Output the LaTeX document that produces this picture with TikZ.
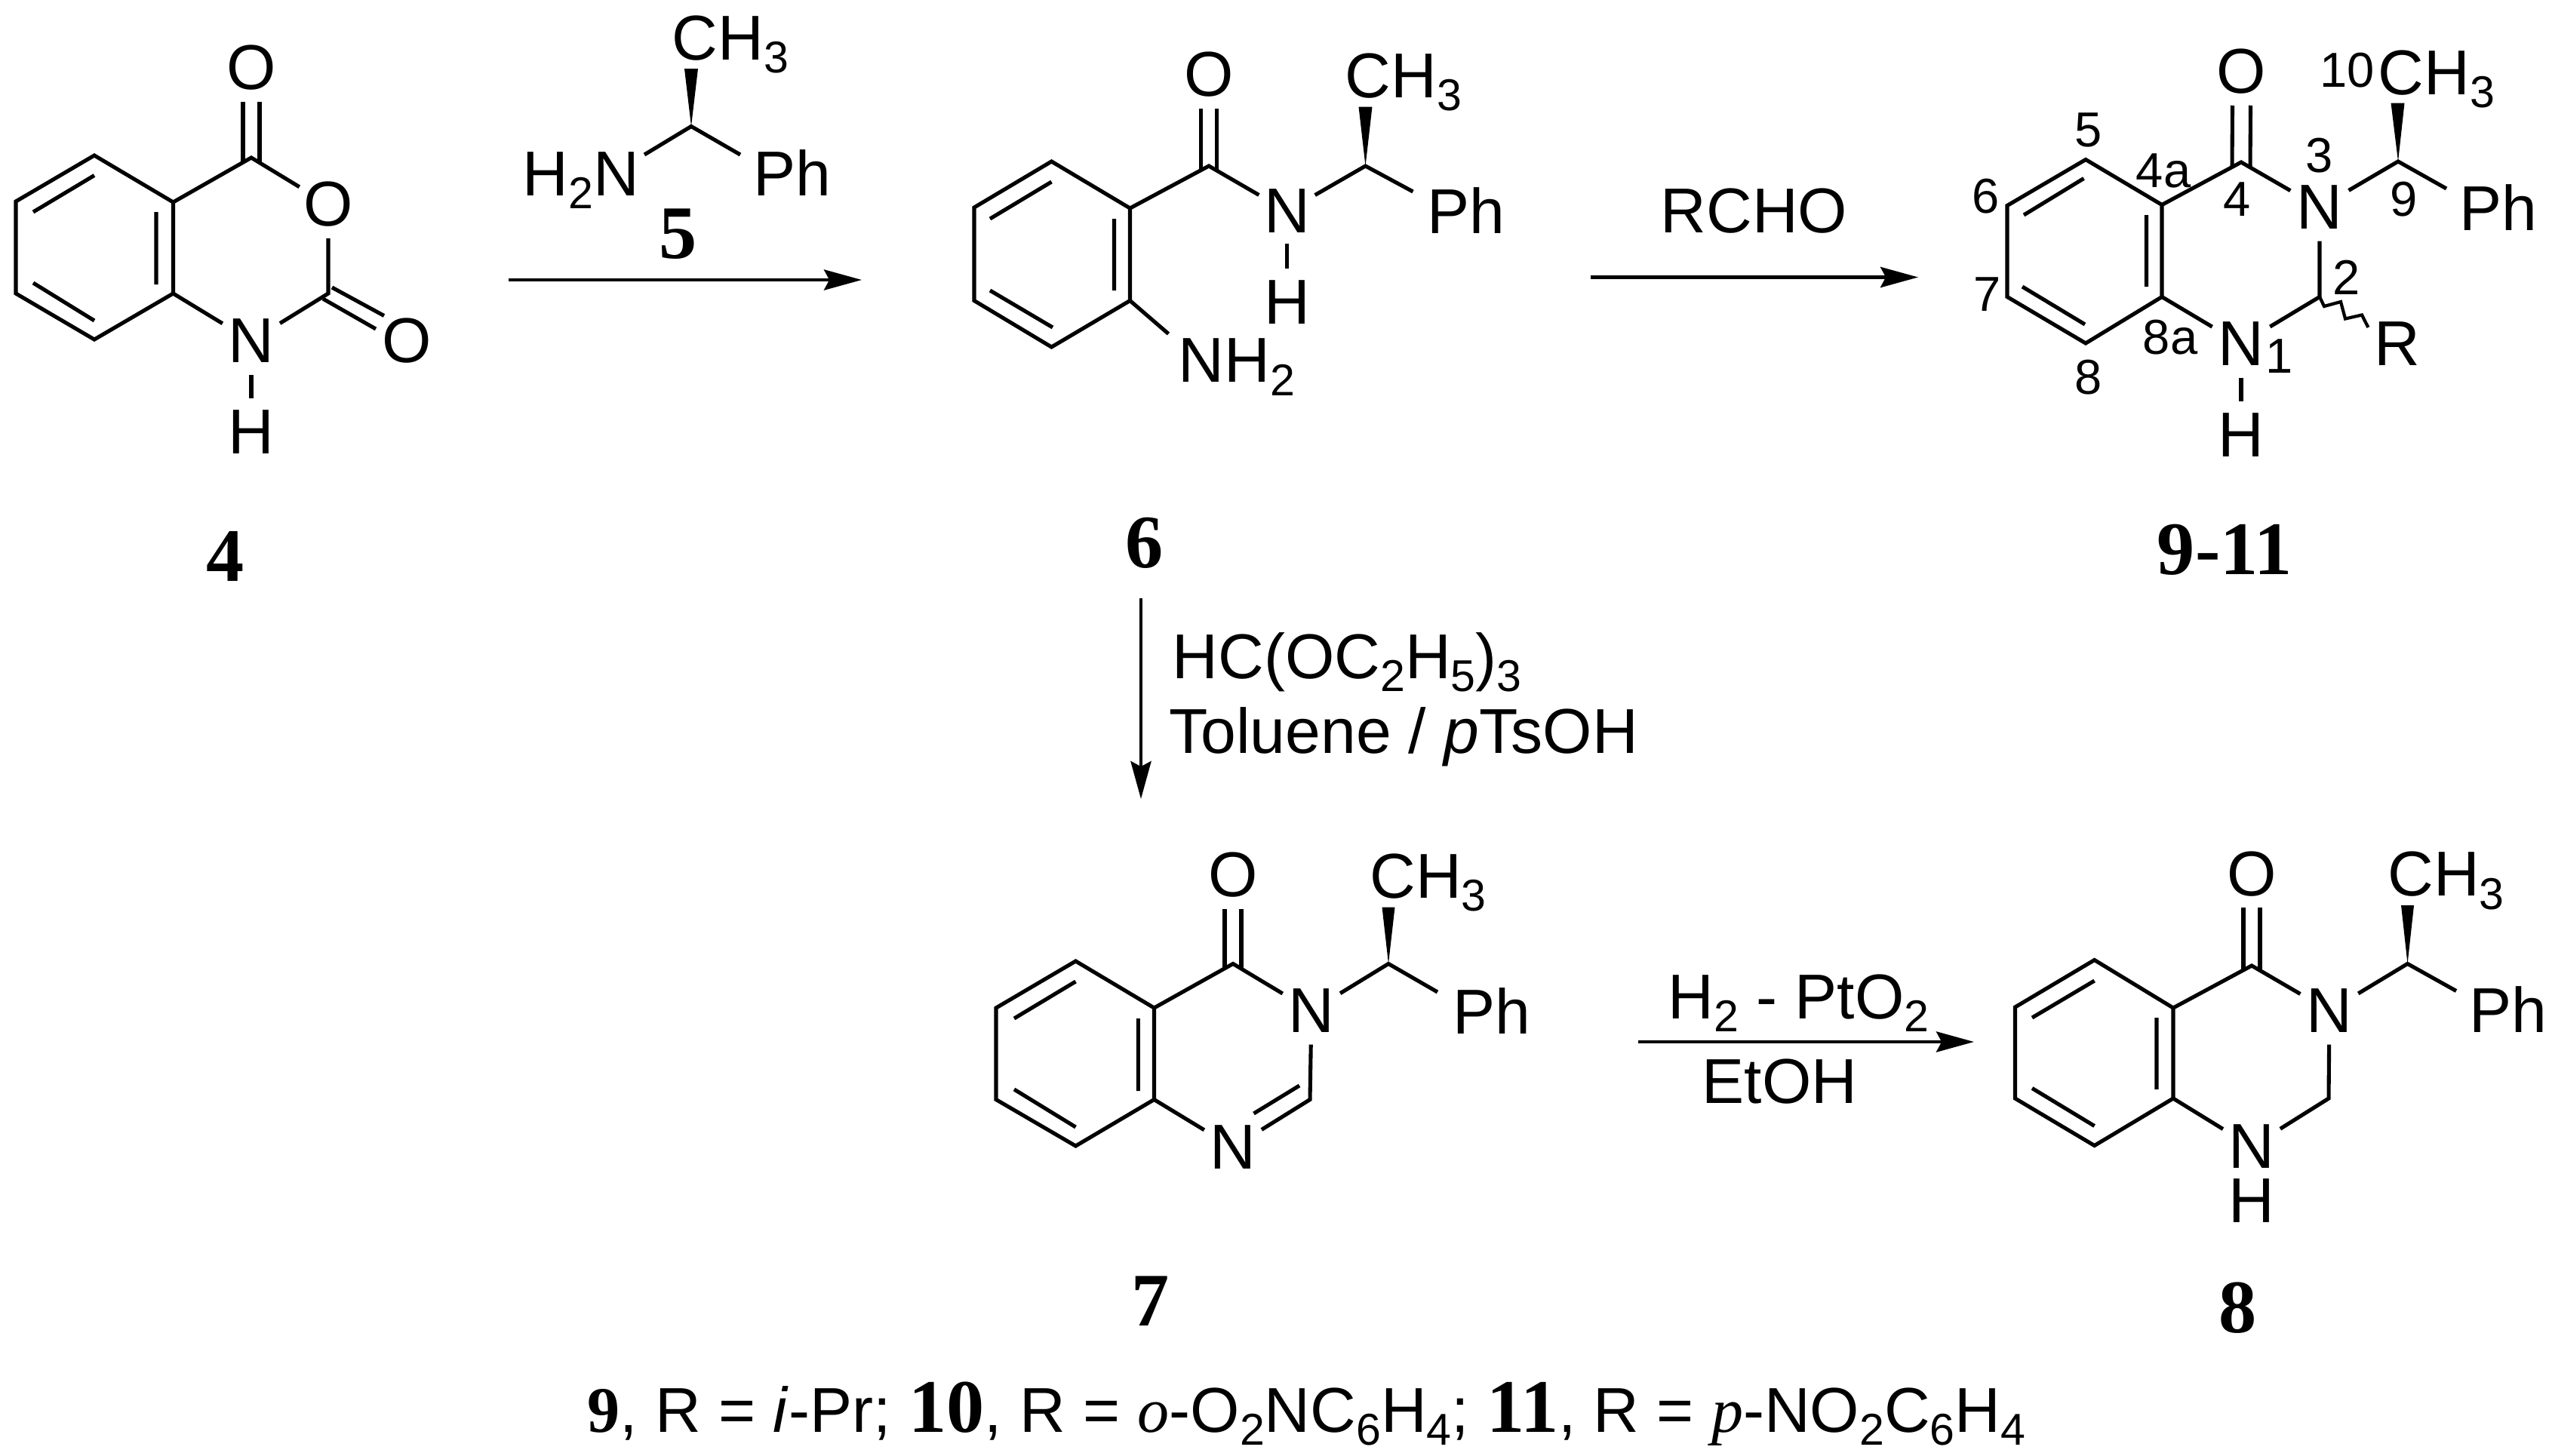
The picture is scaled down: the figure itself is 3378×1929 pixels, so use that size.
\documentclass[tikz,border=0pt]{standalone}
\usepackage{fontspec}
\setmainfont{Liberation Sans}
\newfontfamily\tnr{Liberation Serif}
\usetikzlibrary{calc,arrows.meta}
\newcommand{\atomfont}{\fontsize{23.9}{26}\selectfont}
\newcommand{\smallnum}{\fontsize{18.5}{20}\selectfont}
\newcommand{\cmpdfont}{\tnr\bfseries\fontsize{28.5}{30}\selectfont}
\newcommand{\dn}[1]{\raisebox{-5.1pt}{\fontsize{16.8}{18}\selectfont #1}}
\tikzset{
  bond/.style={line width=1.45pt,line cap=butt,line join=miter},
  atom/.style={circle,inner sep=0pt,minimum size=25pt,font=\atomfont},
  txt/.style={anchor=base west,inner sep=0pt,font=\atomfont},
  num/.style={inner sep=0pt,font=\smallnum},
  cmpd/.style={anchor=base,inner sep=0pt,font=\cmpdfont},
  rxn/.style={line width=1.3pt,-{Stealth[length=14.2pt,width=7.7pt,inset=2pt]}},
}
\begin{document}
\begin{tikzpicture}[x=0.01cm,y=-0.01cm]
\fill[white] (0,0) rectangle (3378,1929);
\useasboundingbox (0,0) rectangle (3378,1929);

% ---------- compound 4
\coordinate (a1) at (125,206); \coordinate (a2) at (21,267); \coordinate (a3) at (21,389);
\coordinate (a4) at (125,450); \coordinate (a5) at (229.5,389); \coordinate (a6) at (229.5,268);
\coordinate (aC4) at (333,209); \coordinate (aC2) at (435,389);
\node[atom] (aO) at (333,90) {O};
\node[atom] (aOr) at (435,271) {O};
\node[atom] (aN) at (333,452) {N};
\node[atom] (aOb) at (539,452) {O};
\node[atom] (aH) at (333,573) {H};
\draw[bond] (a1)--(a2)--(a3)--(a4)--(a5)--(a6)--cycle;
\draw[bond] (125,232.5)--(44,281) (207,281)--(207,377) (44,375)--(125,425);
\draw[bond] (a6)--(aC4)--(aOr);
\draw[bond] (aOr)--(aC2)--(aN)--(a5);
\draw[bond] (aN)--(aH);
\draw[bond] ($(aC4)+(-11,6)$)--($(aO.south)+(-11,0)$);
\draw[bond] ($(aC4)+(11,6)$)--($(aO.south)+(11,0)$);
\draw[bond] (440,381)--(509,418.5) (428,396)--(498,436);
\node[cmpd] (l4) at (299,770) {4};

% ---------- reagent 5
\coordinate (bC) at (916,167.5); \coordinate (bM) at (916,91);
\coordinate (bNe) at (854,205); \coordinate (bPe) at (981,205);
\node[txt] (bMe) at (890,79) {CH\dn{3}};
\node[txt] (bN) at (692,259) {H\dn{2}N};
\node[txt] (bPh) at (998,259) {Ph};
\fill ($(bM)+(-9,0)$)--($(bM)+(9,0)$)--(bC)--cycle;
\draw[bond] (bNe)--(bC)--(bPe);
\node[cmpd] (l5) at (899,342) {5};
\coordinate (ar1s) at (674,371); \coordinate (ar1e) at (1142,371);
\draw[rxn] (ar1s)--(ar1e);

% ---------- compound 6
\coordinate (c1) at (1393.5,214); \coordinate (c2) at (1291,275); \coordinate (c3) at (1291,398.5);
\coordinate (c4) at (1393.5,460); \coordinate (c5) at (1497.5,398.5); \coordinate (c6) at (1497.5,276);
\coordinate (cCO) at (1602,220); \coordinate (cC) at (1809.5,220); \coordinate (cM) at (1809.5,141.5);
\coordinate (cPe) at (1872.5,254); \coordinate (cNe) at (1548.5,442.5);
\node[atom] (cO) at (1602,99) {O};
\node[atom,minimum size=24pt] (cN) at (1705.5,280) {N};
\node[atom] (cH) at (1705.5,401) {H};
\node[txt] (cMe) at (1782,129) {CH\dn{3}};
\node[txt] (cPh) at (1891,309) {Ph};
\node[txt] (cNH) at (1561,506.5) {NH\dn{2}};
\draw[bond] (c1)--(c2)--(c3)--(c4)--(c5)--(c6)--cycle;
\draw[bond] (1393.5,241)--(1312,290) (1476.5,290)--(1476.5,385) (1312,385)--(1395,434);
\draw[bond] (c6)--(cCO)--(cN);
\draw[bond] (cN)--(cH);
\draw[bond] (cN)--(cC)--(cPe);
\draw[bond] (c5)--(cNe);
\fill ($(cM)+(-9,0)$)--($(cM)+(9,0)$)--(cC)--cycle;
\draw[bond] ($(cCO)+(-10.5,6)$)--($(cO.south)+(-10.5,0)$);
\draw[bond] ($(cCO)+(10.5,6)$)--($(cO.south)+(10.5,0)$);
\node[cmpd] (l6) at (1517,752) {6};

% ---------- arrow 6 to 9-11
\node[txt] (rcho) at (2200,308) {RCHO};
\coordinate (ar2s) at (2108,367.5); \coordinate (ar2e) at (2542,367.5);
\draw[rxn] (ar2s)--(ar2e);

% ---------- compounds 9-11
\coordinate (d5) at (2764,211.5); \coordinate (d6) at (2660,272.5); \coordinate (d7) at (2660,393.5);
\coordinate (d8) at (2764,455); \coordinate (d8a) at (2865,393.5); \coordinate (d4a) at (2865,271.5);
\coordinate (dC4) at (2970,215); \coordinate (dC9) at (3178,214); \coordinate (dC2) at (3074,393.5);
\coordinate (dM) at (3177.5,136.5); \coordinate (dPe) at (3242,250);
\node[atom] (dO) at (2970.5,95) {O};
\node[atom] (dN3) at (3074,275) {N};
\node[atom] (dN1) at (2970,456) {N};
\node[atom] (dH) at (2970,576.5) {H};
\node[atom] (dR) at (3176.5,456) {R};
\node[txt] (dMe) at (3151,125) {CH\dn{3}};
\node[txt] (dPh) at (3259,305) {Ph};
\draw[bond] (d5)--(d6)--(d7)--(d8)--(d8a)--(d4a)--cycle;
\draw[bond] (2761.5,236.5)--(2682,285) (2844.5,285)--(2844.5,380) (2680,380)--(2763,430);
\draw[bond] (d4a)--(dC4)--(dN3);
\draw[bond] (dN3)--(dC2)--(dN1)--(d8a);
\draw[bond] (dN1)--(dH);
\draw[bond] (dN3)--(dC9)--(dPe);
\fill ($(dM)+(-9,0)$)--($(dM)+(9,0)$)--(dC9)--cycle;
\draw[bond] ($(dC4)+(-12,6)$)--($(dO.south)+(-12,0)$);
\draw[bond] ($(dC4)+(12,6)$)--($(dO.south)+(12,0)$);
\draw[line width=1.2pt] (dC2)--(3080,406)--(3102,400)--(3108,422.5)--(3130,417.5)--(3138.4,434);
\node[num] (n5) at (2768,172.5) {5};
\node[num] (n6) at (2631.6,260) {6};
\node[num] (n7) at (2634,390) {7};
\node[num] (n8) at (2768,500) {8};
\node[num] (n4a) at (2867,226) {4a};
\node[num] (n8a) at (2876,447.5) {8a};
\node[num] (n4) at (2965,264) {4};
\node[num] (n3) at (3074,206) {3};
\node[num] (n2) at (3110,367.5) {2};
\node[num] (n9) at (3186,264) {9};
\node[num] (n1) at (3021,472.5) {1};
\node[num,anchor=base west] (n10) at (3074,115) {10};
\node[cmpd] (l9) at (2948,761.5) {9-11};

% ---------- arrow 6 to 7
\node[txt] (r1) at (1553,899) {HC(OC\dn{2}H\dn{5})\dn{3}};
\node[txt] (r2) at (1548.6,998.5) {Toluene / \textit{p}TsOH};
\coordinate (ar3s) at (1512,792.5); \coordinate (ar3e) at (1512,1059);
\draw[rxn] (ar3s)--(ar3e);

% ---------- compound 7
\coordinate (e1) at (1425.5,1274); \coordinate (e2) at (1320,1336); \coordinate (e3) at (1320,1457.5);
\coordinate (e4) at (1425.5,1519); \coordinate (e5) at (1529.5,1457.5); \coordinate (e6) at (1529.5,1336);
\coordinate (eCO) at (1634,1277.5); \coordinate (eC) at (1840,1277.5); \coordinate (eM) at (1840,1202.5);
\coordinate (eC2) at (1736,1457.5); \coordinate (ePe) at (1905,1315);
\node[atom] (eO) at (1634,1160) {O};
\node[atom] (eN) at (1738,1340) {N};
\node[atom] (eN1) at (1634,1521) {N};
\node[txt] (eMe) at (1814.6,1190) {CH\dn{3}};
\node[txt] (ePh) at (1924.4,1370) {Ph};
\draw[bond] (e1)--(e2)--(e3)--(e4)--(e5)--(e6)--cycle;
\draw[bond] (1425.5,1301)--(1344,1350) (1508.4,1350)--(1508.4,1446) (1344,1444)--(1425.5,1494);
\draw[bond] (e6)--(eCO)--(eN);
\draw[bond] (eN)--(eC2)--(eN1)--(e5);
\draw[bond] (1722,1439)--(1661.5,1476);
\draw[bond] (eN)--(eC)--(ePe);
\fill ($(eM)+(-8.5,0)$)--($(eM)+(8.5,0)$)--(eC)--cycle;
\draw[bond] ($(eCO)+(-11,6)$)--($(eO.south)+(-11,0)$);
\draw[bond] ($(eCO)+(11,6)$)--($(eO.south)+(11,0)$);
\node[cmpd] (l7) at (1525,1757) {7};

% ---------- arrow 7 to 8
\node[txt] (r3) at (2210,1350) {H\dn{2} - PtO\dn{2}};
\node[txt] (r4) at (2255,1462.5) {EtOH};
\coordinate (ar4s) at (2171,1381); \coordinate (ar4e) at (2616,1381);
\draw[rxn] (ar4s)--(ar4e);

% ---------- compound 8
\coordinate (f1) at (2775.6,1272.5); \coordinate (f2) at (2670.5,1335); \coordinate (f3) at (2670.5,1456);
\coordinate (f4) at (2775.6,1518.5); \coordinate (f5) at (2880,1456); \coordinate (f6) at (2880,1336);
\coordinate (fCO) at (2984,1280); \coordinate (fC) at (3190.5,1277.5); \coordinate (fM) at (3190.5,1200);
\coordinate (fC2) at (3086,1456); \coordinate (fPe) at (3255,1313.5);
\node[atom] (fO) at (2984,1158.5) {O};
\node[atom] (fN) at (3087,1340) {N};
\node[atom] (fN1) at (2984,1520) {N};
\node[txt,anchor=base] (fH) at (2984,1620) {H};
\node[txt] (fMe) at (3163.6,1187.5) {CH\dn{3}};
\node[txt] (fPh) at (3272,1368.5) {Ph};
\draw[bond] (f1)--(f2)--(f3)--(f4)--(f5)--(f6)--cycle;
\draw[bond] (2775.6,1300)--(2693,1349) (2858,1349)--(2858,1444) (2693,1442.5)--(2775.6,1492.5);
\draw[bond] (f6)--(fCO)--(fN);
\draw[bond] (fN)--(fC2)--(fN1)--(f5);
\draw[bond] (fN)--(fC)--(fPe);
\fill ($(fM)+(-8.5,0)$)--($(fM)+(8.5,0)$)--(fC)--cycle;
\draw[bond] ($(fCO)+(-11,6)$)--($(fO.south)+(-11,0)$);
\draw[bond] ($(fCO)+(11,6)$)--($(fO.south)+(11,0)$);
\node[cmpd] (l8) at (2965.5,1766) {8};

% ---------- footnote
\node[txt] (foot) at (778,1898) {{\tnr\bfseries\fontsize{24.5}{26}\selectfont 9}, R = \textit{i}-Pr; {\cmpdfont 10}, R = {\tnr\itshape o}-O\dn{2}NC\dn{6}H\dn{4}; {\cmpdfont 11}, R = {\tnr\itshape p}-NO\dn{2}C\dn{6}H\dn{4}};
\end{tikzpicture}
\end{document}
